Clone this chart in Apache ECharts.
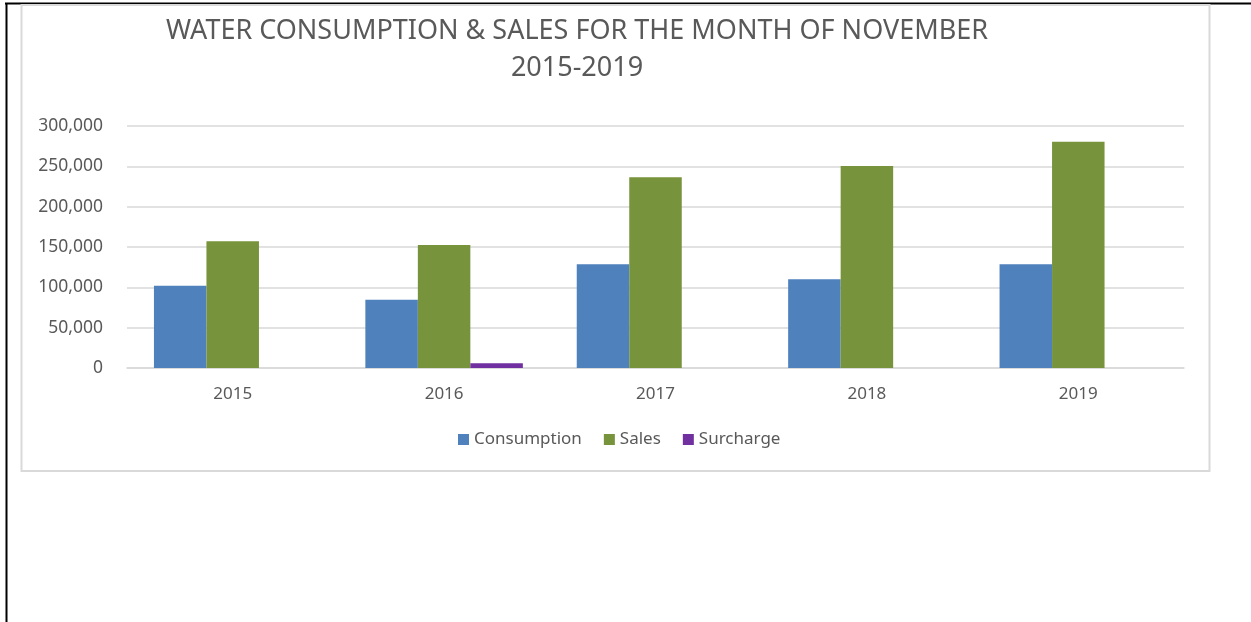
<!DOCTYPE html>
<html>
<head>
<meta charset="utf-8">
<script src="https://cdn.jsdelivr.net/npm/echarts@6/dist/echarts.min.js"></script>
<style>
  html, body { margin: 0; padding: 0; background: #fff; }
  #main { width: 1251px; height: 622px; }
</style>
</head>
<body>
<div id="main"></div>
<script>
  // values
  const years = ['2015', '2016', '2017', '2018', '2019'];
  const consumption = [102000, 84500, 128600, 110000, 128600];
  const sales = [157000, 152500, 236400, 250400, 280600];
  const surcharge = [0, 5800, 0, 0, 0];
  const yTicks = { min: 0, max: 300000, interval: 50000 };

  const font = '"Noto Sans", "Open Sans", sans-serif';
  const gray = '#595959';

  let myChart = echarts.init(document.getElementById('main'));

  let option = {
    backgroundColor: '#fff',
    animation: false,
    textStyle: { fontFamily: font },
    graphic: [
      // page frame lines
      { type: 'line', shape: { x1: 5, y1: 3.5, x2: 1251, y2: 3.5 }, style: { stroke: '#000', lineWidth: 2 } },
      { type: 'line', shape: { x1: 6.5, y1: 3, x2: 6.5, y2: 622 }, style: { stroke: '#000', lineWidth: 2 } },
      // chart box
      { type: 'rect', shape: { x: 21.5, y: 5, width: 1188, height: 466 },
        style: { fill: null, stroke: '#d9d9d9', lineWidth: 2 } },
      // title
      { type: 'text', x: 577, y: 18,
        style: { text: 'WATER CONSUMPTION & SALES FOR THE MONTH OF NOVEMBER', textAlign: 'center',
                 font: '27px ' + font, fill: gray } },
      { type: 'text', x: 577, y: 55,
        style: { text: '2015-2019', textAlign: 'center', font: '27px ' + font, fill: gray } }
    ],
    legend: {
      data: ['Consumption', 'Sales', 'Surcharge'],
      left: 458,
      top: 431,
      padding: 0,
      itemWidth: 11,
      itemHeight: 11,
      itemGap: 22,
      icon: 'rect',
      textStyle: { color: gray, fontSize: 17, fontFamily: font }
    },
    grid: { left: 127, right: 67, top: 126, bottom: 254 },
    xAxis: {
      type: 'category',
      data: years,
      axisLine: { lineStyle: { color: '#d9d9d9', width: 1.5 } },
      axisTick: { show: false },
      axisLabel: { color: gray, fontSize: 17, margin: 18, fontFamily: font }
    },
    yAxis: {
      type: 'value',
      min: yTicks.min,
      max: yTicks.max,
      interval: yTicks.interval,
      axisLine: { show: false },
      axisTick: { show: false },
      splitLine: { lineStyle: { color: '#d9d9d9', width: 1.5 } },
      axisLabel: {
        color: gray, fontSize: 17.5, margin: 24, fontFamily: font,
        formatter: v => v.toLocaleString('en-US')
      }
    },
    series: [
      { name: 'Consumption', type: 'bar', data: consumption, barWidth: 52.5, barGap: '0%',
        itemStyle: { color: '#4f81bd' } },
      { name: 'Sales', type: 'bar', data: sales, barWidth: 52.5, barGap: '0%',
        itemStyle: { color: '#77933c' } },
      { name: 'Surcharge', type: 'bar', data: surcharge, barWidth: 52.5, barGap: '0%',
        itemStyle: { color: '#7030a0' } }
    ]
  };

  myChart.setOption(option);
</script>
</body>
</html>
